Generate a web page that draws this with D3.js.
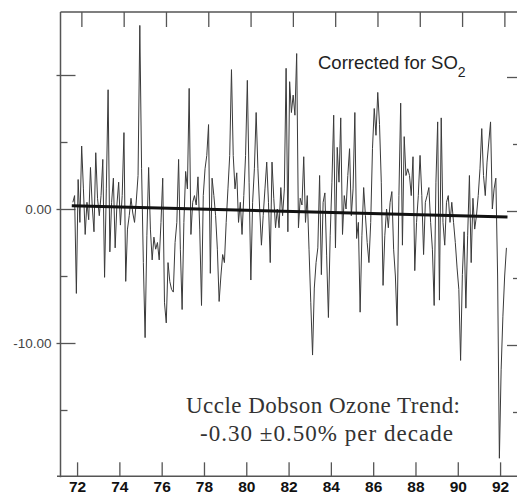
<!DOCTYPE html>
<html>
<head>
<meta charset="utf-8">
<script src="https://cdn.jsdelivr.net/npm/d3@7"></script>
<style>
html,body{margin:0;padding:0;background:#fff;}
svg{display:block;}
</style>
</head>
<body>
<svg id="chart" width="517" height="498"></svg>
<script>
// ---- data (monthly ozone deviation, %) ----
const startYear = 1971.8;
const ozoneDeviation = [
  0.5, 1.0, -6.3, 2.2, -1.0, 4.7, 1.5, -1.9, 0.5, -0.8, 3.1, 0.2,
  -1.7, 4.2, 0.8, -0.5, 1.0, 3.7, -5.1, 1.5, 8.9, -3.2, 0.5, 2.3,
  -2.9, 0.3, 2.0, -1.2, 1.0, 5.7, -5.4, -1.5, -0.5, 0.8, -0.3, -1.0,
  0.6, 2.5, 13.7, 3.0, -4.0, -9.6, -2.0, 3.1, -1.5, -3.8, -2.1, -3.0,
  -2.5, -3.8, -1.0, 2.3, -7.0, -8.5, -4.0, -5.4, -6.0, -6.2, -2.5, -1.0,
  3.7, -3.0, -7.5, -1.0, 2.8, 1.5, 9.0, -1.9, 0.5, 1.0, 0.3, 2.4,
  -1.5, -7.2, 1.0, 3.0, 4.0, 6.3, -4.8, 2.3, 1.0, -0.5, -3.0, -6.9,
  -5.0, -3.4, -4.0, -1.0, 1.5, 4.0, 10.4, 4.0, 1.5, 2.7, -1.0, 0.5,
  -1.9, 1.0, 4.0, 9.6, 2.0, -5.3, 0.5, 3.0, 7.2, 3.0, 0.0, -2.7,
  -0.5, 1.5, 3.5, 0.5, -4.0, 3.5, 0.8, -1.4, 0.0, -1.4, 1.6, -0.5,
  1.5, 10.5, -1.7, 9.5, 7.2, 8.5, 7.0, 11.6, -1.4, 0.8, 0.3, 3.9,
  -1.0, 1.0, -3.0, -7.0, -10.9, -5.9, -4.0, -2.9, 2.5, -4.9, 0.5, 1.2,
  -3.5, -8.1, -2.0, 2.0, 7.0, -2.9, 4.6, 2.0, 6.8, -1.9, 1.0, 0.0,
  2.5, 4.5, -0.5, 1.5, 7.2, -2.2, -1.0, -7.7, -2.0, 1.6, -0.5, -2.5,
  -4.0, -1.0, 4.5, 7.5, 5.5, 8.7, 6.3, 2.0, -5.7, -2.0, 0.0, -1.4,
  0.5, 1.3, -3.0, -5.0, -8.7, 1.0, 7.9, -2.7, 5.4, 2.5, 3.0, 2.5,
  1.0, 3.9, -4.6, -1.0, 1.0, 4.0, 1.0, -3.4, 0.5, 1.0, 1.6, -1.0,
  -3.0, -7.2, 2.0, 6.5, -6.8, 6.8, -1.0, -2.7, 0.5, 1.0, -1.0, 0.5,
  -1.0, -2.5, -4.4, -6.0, -11.3, -4.9, -1.7, -7.4, -2.0, 2.5, -4.0, 0.8,
  -1.5, -0.5, 1.0, 3.0, 6.0, 2.5, 1.0, 3.5, 5.0, 6.5, 0.0, 1.5,
  2.3, -5.0, -18.6, -12.0, -8.0, -5.0, -2.9
];
const trendYears = [1971.75, 1992.35];
const trendValues = [0.25, -0.6];

const yearTicks = [1972, 1974, 1976, 1978, 1980, 1982, 1984, 1986, 1988, 1990, 1992];
const yearLabels = ["72", "74", "76", "78", "80", "82", "84", "86", "88", "90", "92"];
const yMajorTicks = [10, 0, -10];
const yMajorLabels = ["", "0.00", "-10.00"];
const yMinorTicks = [5, -5, -15];

const annotationTop = "Corrected for SO";
const annotationSub = "2";
const trendTitle = "Uccle Dobson Ozone Trend:";
const trendText = "-0.30 \u00b10.50% per decade";

// ---- scales ----
const svg = d3.select("#chart");
const x = d3.scaleLinear().domain([1971.24, 1992.8]).range([61, 517]);
const xTop = x.copy().range([65.3, 521.3]);
const y = d3.scaleLinear().domain([-10, 0]).range([343, 209]);
const yTopVal = 14.7, yBotVal = -19.95;

svg.append("rect").attr("width", 517).attr("height", 498).attr("fill", "#fff");

const axisColor = "#555";

// frame lines
svg.append("line").attr("x1", x.range()[0] - 0.5).attr("x2", x.range()[0] - 0.5)
  .attr("y1", y(yTopVal)).attr("y2", y(yBotVal) + 1)
  .attr("stroke", axisColor).attr("stroke-width", 1.5);
svg.append("line").attr("x1", x.range()[0] - 0.5).attr("x2", 517)
  .attr("y1", y(yTopVal)).attr("y2", y(yTopVal))
  .attr("stroke", axisColor).attr("stroke-width", 1.5);
svg.append("line").attr("x1", x.range()[0] - 4).attr("x2", 517)
  .attr("y1", y(yBotVal)).attr("y2", y(yBotVal))
  .attr("stroke", axisColor).attr("stroke-width", 1.5);

// bottom axis
const gB = svg.append("g").attr("transform", `translate(0,${y(yBotVal)})`)
  .call(d3.axisBottom(x).tickValues(yearTicks).tickSize(-14).tickPadding(5)
    .tickFormat((d, i) => yearLabels[i]));
gB.select(".domain").remove();
gB.selectAll(".tick line").attr("stroke", axisColor).attr("stroke-width", 1.3);
gB.selectAll(".tick text").attr("font-family", "'Liberation Sans', Arial, sans-serif")
  .attr("font-size", 15.5).attr("font-weight", "bold").attr("fill", "#111");

// top axis (ticks only)
const gT = svg.append("g").attr("transform", `translate(0,${y(yTopVal)})`)
  .call(d3.axisTop(xTop).tickValues(yearTicks).tickSize(-15).tickFormat(""));
gT.select(".domain").remove();
gT.selectAll(".tick line").attr("stroke", axisColor).attr("stroke-width", 1.3);

// left axis major
const gL = svg.append("g").attr("transform", `translate(${x.range()[0] - 0.5},0)`)
  .call(d3.axisLeft(y).tickValues(yMajorTicks).tickSize(-15).tickPadding(9)
    .tickFormat((d, i) => yMajorLabels[i]));
gL.select(".domain").remove();
gL.selectAll(".tick line").attr("x1", -4).attr("stroke", axisColor).attr("stroke-width", 1.3);
gL.selectAll(".tick text").attr("font-family", "'Liberation Sans', Arial, sans-serif")
  .attr("font-size", 13.5).attr("fill", "#444");
// left axis minor
const gLm = svg.append("g").attr("transform", `translate(${x.range()[0] - 0.5},0)`)
  .call(d3.axisLeft(y).tickValues(yMinorTicks).tickSize(-7).tickFormat(""));
gLm.select(".domain").remove();
gLm.selectAll(".tick line").attr("stroke", axisColor).attr("stroke-width", 1.3);

// right axis ticks
const yR = y.copy().range([345, 211]);
const gR = svg.append("g").attr("transform", `translate(517,0)`)
  .call(d3.axisRight(yR).tickValues(yMajorTicks).tickSize(-10).tickFormat(""));
gR.select(".domain").remove();
gR.selectAll(".tick line").attr("stroke", axisColor).attr("stroke-width", 1.3);
const gRm = svg.append("g").attr("transform", `translate(517,0)`)
  .call(d3.axisRight(yR).tickValues(yMinorTicks).tickSize(-4).tickFormat(""));
gRm.select(".domain").remove();
gRm.selectAll(".tick line").attr("stroke", axisColor).attr("stroke-width", 1.3);

// data line
const series = ozoneDeviation.map((v, i) => ({ t: startYear + i / 12, v }));
svg.append("path").datum(series)
  .attr("fill", "none").attr("stroke", "#3a3a3a").attr("stroke-width", 1)
  .attr("stroke-linejoin", "miter")
  .attr("d", d3.line().x(d => x(d.t)).y(d => y(d.v)));

// trend line
const trend = trendYears.map((t, i) => ({ t, v: trendValues[i] }));
svg.append("path").datum(trend)
  .attr("fill", "none").attr("stroke", "#111").attr("stroke-width", 3)
  .attr("d", d3.line().x(d => x(d.t)).y(d => y(d.v)));

// annotations
const t1 = svg.append("text").attr("x", 318).attr("y", 69)
  .attr("font-family", "'Liberation Sans', Arial, sans-serif")
  .attr("font-size", 18.5).attr("fill", "#222");
t1.append("tspan").text(annotationTop);
t1.append("tspan").attr("font-size", 14).attr("dy", 8).text(annotationSub);

svg.append("text").attr("x", 186).attr("y", 413)
  .attr("font-family", "'Liberation Serif', 'Times New Roman', serif")
  .attr("font-size", 23).attr("fill", "#333")
  .attr("textLength", 274).attr("lengthAdjust", "spacing")
  .text(trendTitle);
svg.append("text").attr("x", 200).attr("y", 441)
  .attr("font-family", "'Liberation Serif', 'Times New Roman', serif")
  .attr("font-size", 23).attr("fill", "#333")
  .attr("textLength", 253).attr("lengthAdjust", "spacing")
  .text(trendText);
</script>
</body>
</html>
